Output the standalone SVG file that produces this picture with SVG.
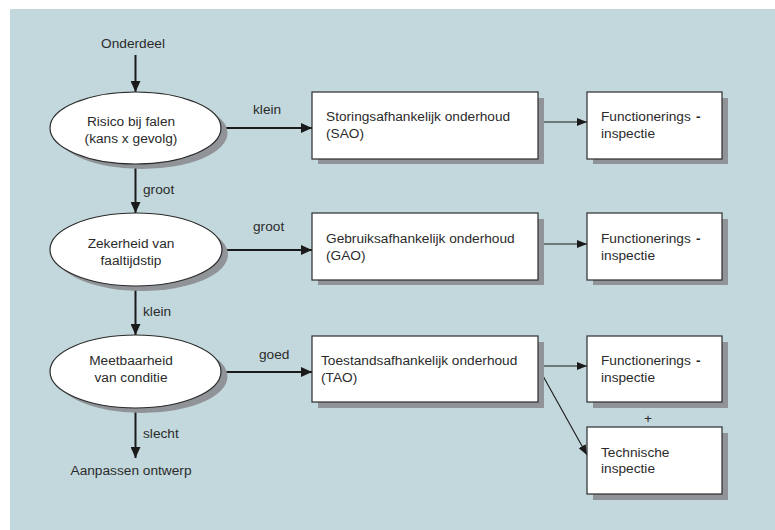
<svg xmlns="http://www.w3.org/2000/svg" width="775" height="530" viewBox="0 0 775 530">
<defs>
<style>
text{font-family:"Liberation Sans",Arial,sans-serif;font-size:13.7px;fill:#2b2b2b}
.c{text-anchor:middle}
.sh{fill:#909398}
.n{fill:#fff;stroke:#2b2b2b;stroke-width:1.2}
.thick{stroke:#1a1a1a;stroke-width:2;fill:none}
.thin{stroke:#1a1a1a;stroke-width:1.1;fill:none}
.dash{font-weight:bold}
</style>
<marker id="ah" markerUnits="userSpaceOnUse" markerWidth="12" markerHeight="10" refX="11" refY="5" orient="auto"><path d="M0,0 L11,5 L0,10 Z" fill="#1a1a1a"/></marker>
<marker id="as" markerUnits="userSpaceOnUse" markerWidth="10" markerHeight="8" refX="10" refY="4" orient="auto"><path d="M0,0 L10,4 L0,8 Z" fill="#1a1a1a"/></marker>
</defs>
<rect x="10" y="9" width="765" height="521" fill="#c3d8dd"/>

<g id="connectors">
<line class="thick" x1="135.5" y1="55" x2="135.5" y2="92" marker-end="url(#ah)"/>
<line class="thick" x1="135.5" y1="164" x2="135.5" y2="213" marker-end="url(#ah)"/>
<line class="thick" x1="135.5" y1="286" x2="135.5" y2="335" marker-end="url(#ah)"/>
<line class="thick" x1="135.5" y1="408" x2="135.5" y2="458" marker-end="url(#ah)"/>
<line class="thick" x1="221" y1="128" x2="312" y2="128" marker-end="url(#ah)"/>
<line class="thick" x1="222" y1="250" x2="312" y2="250" marker-end="url(#ah)"/>
<line class="thick" x1="221" y1="372" x2="312" y2="372" marker-end="url(#ah)"/>
<line class="thin" x1="538" y1="122" x2="587" y2="122" marker-end="url(#as)"/>
<line class="thin" x1="538" y1="244" x2="587" y2="244" marker-end="url(#as)"/>
<line class="thin" x1="538" y1="366" x2="587" y2="366" marker-end="url(#as)"/>
<line class="thin" x1="538" y1="367" x2="587" y2="455" marker-end="url(#as)"/>
<text x="253" y="114">klein</text>
<text x="253" y="231">groot</text>
<text x="259" y="359">goed</text>
<text x="143" y="194">groot</text>
<text x="143" y="316">klein</text>
<text x="143" y="438">slecht</text>
</g>

<g id="start"><text class="c" x="133" y="48">Onderdeel</text></g>
<g id="end"><text class="c" x="131" y="475">Aanpassen ontwerp</text></g>

<g id="risico">
<ellipse class="sh" cx="142" cy="133" rx="85.5" ry="36"/>
<ellipse class="n" cx="135.5" cy="128" rx="85.5" ry="36"/>
<text class="c" x="131" y="126">Risico bij falen</text>
<text class="c" x="131" y="143">(kans x gevolg)</text>
</g>
<g id="zekerheid">
<ellipse class="sh" cx="142" cy="254.5" rx="86" ry="36.5"/>
<ellipse class="n" cx="136" cy="249.5" rx="86" ry="36.5"/>
<text class="c" x="131" y="248">Zekerheid van</text>
<text class="c" x="131" y="265">faaltijdstip</text>
</g>
<g id="meetbaarheid">
<ellipse class="sh" cx="142" cy="376.5" rx="85.5" ry="36.5"/>
<ellipse class="n" cx="135.5" cy="371.5" rx="85.5" ry="36.5"/>
<text class="c" x="131" y="365">Meetbaarheid</text>
<text class="c" x="131" y="382">van conditie</text>
</g>

<g id="sao">
<rect class="sh" x="318" y="98" width="226" height="66"/>
<rect class="n" x="312" y="92" width="226" height="67"/>
<text x="326" y="121">Storingsafhankelijk onderhoud</text>
<text x="326" y="138">(SAO)</text>
</g>
<g id="f1">
<rect class="sh" x="593" y="98" width="135" height="66"/>
<rect class="n" x="587" y="92" width="135" height="67"/>
<text x="601" y="121">Functionerings</text>
<text class="dash" x="696" y="121">-</text>
<text x="601" y="138">inspectie</text>
</g>
<g id="gao">
<rect class="sh" x="318" y="219" width="226" height="66"/>
<rect class="n" x="312" y="213" width="226" height="67"/>
<text x="326" y="243">Gebruiksafhankelijk onderhoud</text>
<text x="326" y="260">(GAO)</text>
</g>
<g id="f2">
<rect class="sh" x="593" y="219" width="135" height="66"/>
<rect class="n" x="587" y="213" width="135" height="67"/>
<text x="601" y="243">Functionerings</text>
<text class="dash" x="696" y="243">-</text>
<text x="601" y="260">inspectie</text>
</g>
<g id="tao">
<rect class="sh" x="318" y="342" width="226" height="66"/>
<rect class="n" x="312" y="336" width="226" height="66"/>
<text x="321" y="365">Toestandsafhankelijk onderhoud</text>
<text x="321" y="382">(TAO)</text>
</g>
<g id="f3">
<rect class="sh" x="593" y="342" width="135" height="66"/>
<rect class="n" x="587" y="336" width="135" height="66"/>
<text x="601" y="365">Functionerings</text>
<text class="dash" x="696" y="365">-</text>
<text x="601" y="382">inspectie</text>
</g>
<g id="plus"><text class="c" x="648" y="423">+</text></g>
<g id="technische">
<rect class="sh" x="593" y="433" width="135" height="67"/>
<rect class="n" x="587" y="427" width="135" height="67"/>
<text x="601" y="457">Technische</text>
<text x="601" y="473">inspectie</text>
</g>
</svg>
